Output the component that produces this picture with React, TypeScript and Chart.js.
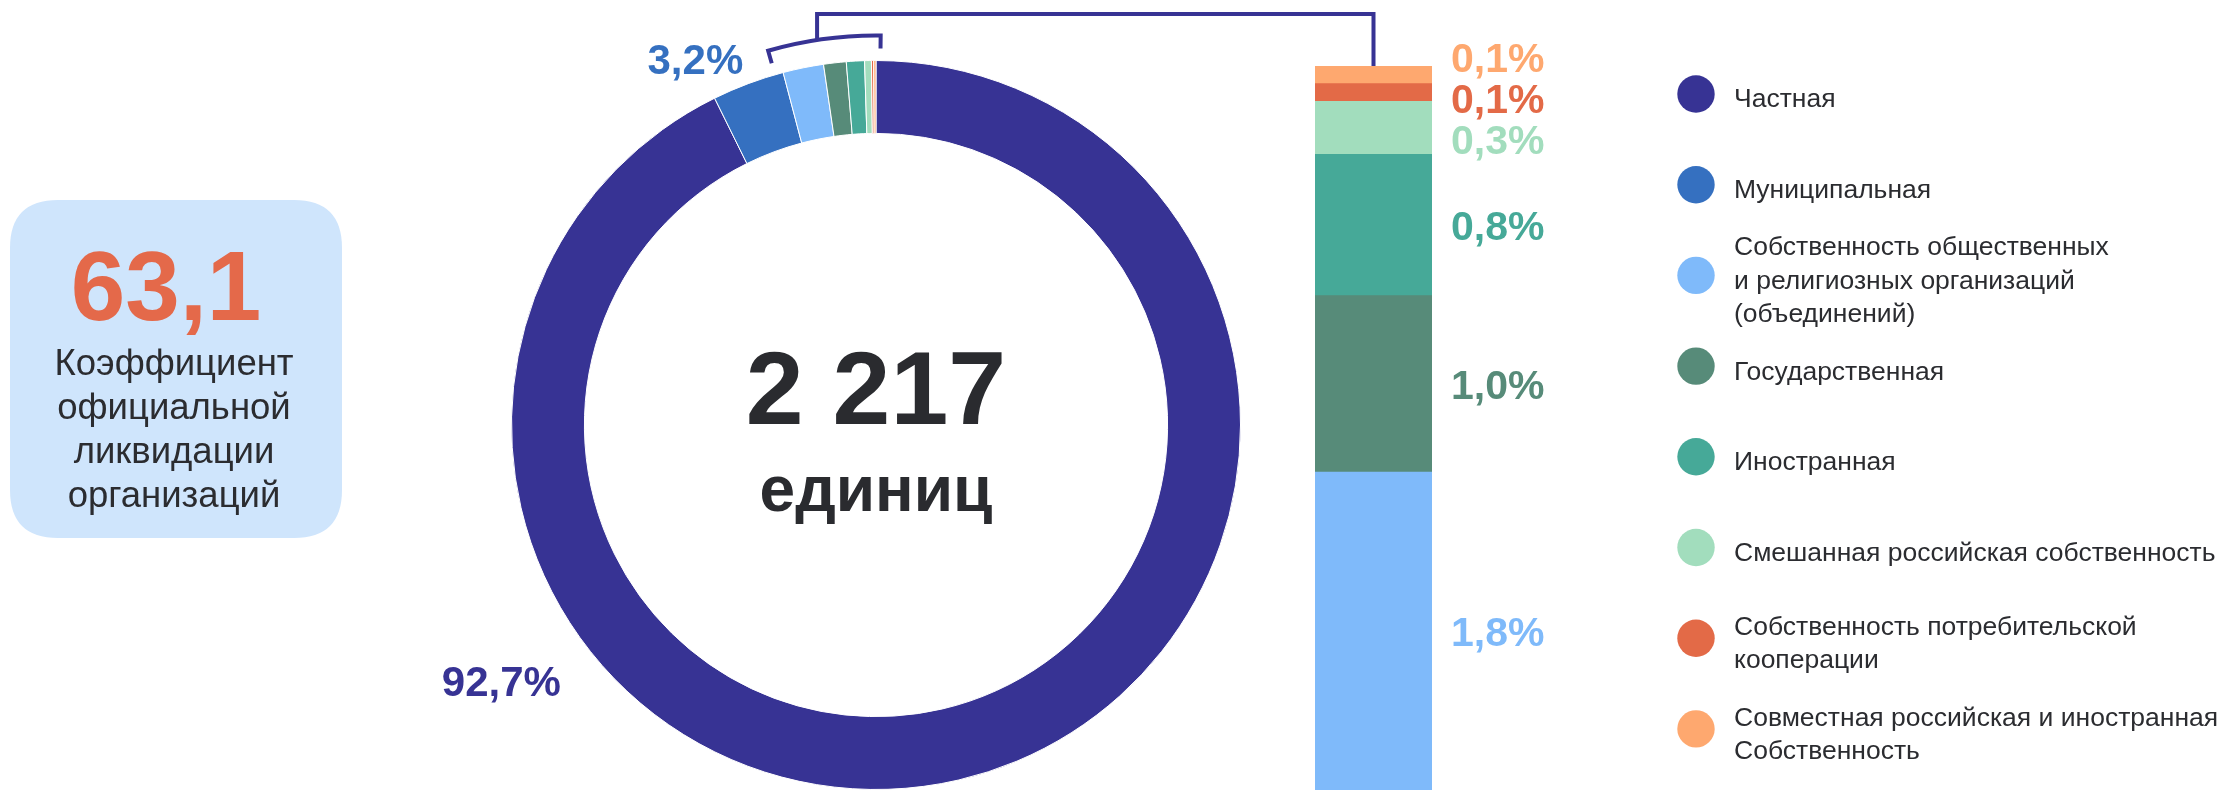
import React, { useEffect, useRef } from "react";
import { Chart, registerables } from "chart.js";

Chart.register(...registerables);

// ---------------- data ----------------
const categories = [
  "Частная",
  "Муниципальная",
  "Собственность общественных\nи религиозных организаций\n(объединений)",
  "Государственная",
  "Иностранная",
  "Смешанная российская собственность",
  "Собственность потребительской\nкооперации",
  "Совместная российская и иностранная\nСобственность",
];
const shares = [92.7, 3.2, 1.8, 1.0, 0.8, 0.3, 0.1, 0.1];
const shareLabels = ["92,7%", "3,2%", "1,8%", "1,0%", "0,8%", "0,3%", "0,1%", "0,1%"];
const colors = ["#373394", "#3570c0", "#7fbafa", "#578b79", "#46a998", "#a2ddbd", "#e36a47", "#fea86f"];
const totalValue = "2 217";
const totalUnit = "единиц";
const coefficientValue = "63,1";
const coefficientLines = ["Коэффициент", "официальной", "ликвидации", "организаций"];
const breakdownStart = 2; // categories from this index are detailed in the stacked bar

// ---------------- layout / style ----------------
const W = 2222;
const H = 790;
const FONT = '"Liberation Sans", Arial, "DejaVu Sans", sans-serif';
const NAVY = "#373394";
const TEXT = "#2b2c30";
const DONUT = { left: 511, top: 60, size: 730 };
const BAR = { left: 1315, right: 1432, top: 66 };
const outerLabelPlacement: Record<number, { frac: number; r: number }> = {
  0: { frac: 0.706, r: 454 },
  1: { frac: 0, r: 408 },
};

const donutDecor = {
  id: "donutDecor",
  afterDraw(chart: any) {
    const ctx: CanvasRenderingContext2D = chart.ctx;
    const arcs = chart.getDatasetMeta(0).data as any[];
    const cx = arcs[0].x;
    const cy = arcs[0].y;
    ctx.save();

    // left info box
    const bx = 10, by = 200, bw = 332, bh = 338, br = 48;
    ctx.fillStyle = "#cfe5fc";
    ctx.beginPath();
    ctx.moveTo(bx + br, by);
    ctx.lineTo(bx + bw - br, by);
    ctx.quadraticCurveTo(bx + bw, by, bx + bw, by + br);
    ctx.lineTo(bx + bw, by + bh - br);
    ctx.quadraticCurveTo(bx + bw, by + bh, bx + bw - br, by + bh);
    ctx.lineTo(bx + br, by + bh);
    ctx.quadraticCurveTo(bx, by + bh, bx, by + bh - br);
    ctx.lineTo(bx, by + br);
    ctx.quadraticCurveTo(bx, by, bx + br, by);
    ctx.closePath();
    ctx.fill();

    ctx.textAlign = "center";
    ctx.textBaseline = "alphabetic";
    ctx.fillStyle = "#e4694a";
    ctx.font = `bold 98px ${FONT}`;
    ctx.fillText(coefficientValue, 166, 320);
    ctx.fillStyle = TEXT;
    ctx.font = `36.5px ${FONT}`;
    coefficientLines.forEach((line, k) => ctx.fillText(line, 174, 375 + k * 44));

    // centre text
    ctx.fillStyle = "#2a2b2f";
    ctx.font = `bold 104px ${FONT}`;
    ctx.fillText(totalValue, cx, cy - 1);
    ctx.font = `bold 64px ${FONT}`;
    ctx.fillText(totalUnit, cx, cy + 86);

    // outer percent labels
    ctx.font = `bold 42px ${FONT}`;
    Object.keys(outerLabelPlacement).forEach((key) => {
      const i = Number(key);
      const p = outerLabelPlacement[i];
      const a = arcs[i].startAngle + p.frac * (arcs[i].endAngle - arcs[i].startAngle);
      ctx.fillStyle = colors[i];
      ctx.fillText(shareLabels[i], cx + p.r * Math.cos(a), cy + p.r * Math.sin(a) + 15);
    });

    // legend
    ctx.textAlign = "left";
    categories.forEach((cat, i) => {
      const ly = 94 + i * 90.7;
      ctx.fillStyle = colors[i];
      ctx.beginPath();
      ctx.arc(1696, ly, 18.7, 0, Math.PI * 2);
      ctx.fill();
      const lines = cat.split("\n");
      ctx.fillStyle = TEXT;
      ctx.font = `26.5px ${FONT}`;
      lines.forEach((line, k) => {
        ctx.fillText(line, 1734, ly + 13.4 + (k - (lines.length - 1) / 2) * 33.5);
      });
    });
    ctx.restore();
  },
};

export default function App() {
  const donutRef = useRef<HTMLCanvasElement | null>(null);
  const barRef = useRef<HTMLCanvasElement | null>(null);

  useEffect(() => {
    const donut = new Chart(donutRef.current as HTMLCanvasElement, {
      type: "doughnut",
      data: {
        labels: categories,
        datasets: [
          {
            data: shares,
            backgroundColor: colors,
            borderColor: "#ffffff",
            borderWidth: 1,
          },
        ],
      },
      options: {
        responsive: false,
        animation: false,
        cutout: "80%",
        events: [],
        layout: {
          padding: {
            left: DONUT.left,
            top: DONUT.top,
            right: W - DONUT.left - DONUT.size,
            bottom: H - DONUT.top - DONUT.size,
          },
        },
        plugins: { legend: { display: false }, tooltip: { enabled: false } },
      } as any,
      plugins: [donutDecor],
    });

    const detailIdx = shares.map((_, i) => i).filter((i) => i >= breakdownStart);
    const detailTotal = detailIdx.reduce((s, i) => s + shares[i], 0);

    const barDecor = {
      id: "barDecor",
      afterDraw(chart: any) {
        const ctx: CanvasRenderingContext2D = chart.ctx;
        ctx.save();
        // labels right of the bar, pushed apart to avoid overlap
        const items = detailIdx.map((ci, d) => {
          const el = chart.getDatasetMeta(d).data[0];
          return { ci, y: (el.y + el.base) / 2 };
        });
        items.sort((a, b) => a.y - b.y);
        const gap = 41;
        for (let it = 0; it < 60; it++) {
          for (let k = 1; k < items.length; k++) {
            const d = items[k].y - items[k - 1].y;
            if (d < gap) {
              const s = (gap - d) / 2;
              items[k - 1].y -= s;
              items[k].y += s;
            }
          }
        }
        ctx.font = `bold 41px ${FONT}`;
        ctx.textAlign = "left";
        ctx.textBaseline = "alphabetic";
        items.forEach((it) => {
          ctx.fillStyle = colors[it.ci];
          ctx.fillText(shareLabels[it.ci], chart.chartArea.right + 19, it.y + 14.7);
        });

        // bracket linking the small donut slices with the bar
        const arcs = donut.getDatasetMeta(0).data as any[];
        const c0 = arcs[0];
        const R = c0.outerRadius + 25;
        const a0 = arcs[breakdownStart].startAngle - 0.023;
        const a1 = arcs[arcs.length - 1].endAngle + 0.012;
        const tick = 13;
        ctx.strokeStyle = NAVY;
        ctx.lineWidth = 4;
        ctx.lineJoin = "miter";
        ctx.beginPath();
        ctx.moveTo(c0.x + (R - tick) * Math.cos(a0), c0.y + (R - tick) * Math.sin(a0));
        ctx.lineTo(c0.x + R * Math.cos(a0), c0.y + R * Math.sin(a0));
        ctx.arc(c0.x, c0.y, R, a0, a1);
        ctx.lineTo(c0.x + (R - tick) * Math.cos(a1), c0.y + (R - tick) * Math.sin(a1));
        ctx.stroke();
        const am = a0 + 0.44 * (a1 - a0);
        const px = c0.x + R * Math.cos(am);
        const py = c0.y + R * Math.sin(am);
        const topEl = chart.getDatasetMeta(detailIdx.length - 1).data[0];
        const lineY = 14;
        ctx.beginPath();
        ctx.moveTo(px, py);
        ctx.lineTo(px, lineY);
        ctx.lineTo(topEl.x, lineY);
        ctx.lineTo(topEl.x, topEl.y);
        ctx.stroke();
        ctx.restore();
      },
    };

    const bar = new Chart(barRef.current as HTMLCanvasElement, {
      type: "bar",
      data: {
        labels: [""],
        datasets: detailIdx.map((i) => ({
          label: categories[i],
          data: [shares[i]],
          backgroundColor: colors[i],
          borderWidth: 0,
          barPercentage: 1,
          categoryPercentage: 1,
        })),
      },
      options: {
        responsive: false,
        animation: false,
        events: [],
        layout: { padding: { left: BAR.left, right: W - BAR.right, top: BAR.top, bottom: 0 } },
        scales: {
          x: { stacked: true, display: false },
          y: { stacked: true, display: false, min: 0, max: detailTotal },
        },
        plugins: { legend: { display: false }, tooltip: { enabled: false } },
      } as any,
      plugins: [barDecor],
    });

    return () => {
      bar.destroy();
      donut.destroy();
    };
  }, []);

  return (
    <div
      style={{
        position: "absolute",
        left: 0,
        top: 0,
        width: W,
        height: H,
        background: "#ffffff",
        overflow: "hidden",
      }}
    >
      <canvas
        ref={donutRef}
        width={W}
        height={H}
        style={{ position: "absolute", left: 0, top: 0, width: W, height: H }}
      />
      <canvas
        ref={barRef}
        width={W}
        height={H}
        style={{ position: "absolute", left: 0, top: 0, width: W, height: H }}
      />
    </div>
  );
}
